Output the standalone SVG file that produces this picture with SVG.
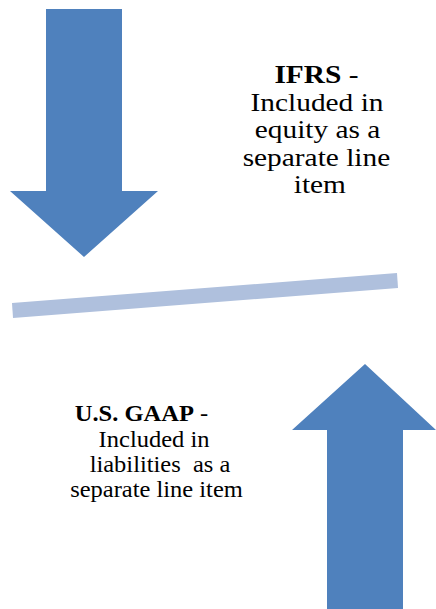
<svg xmlns="http://www.w3.org/2000/svg" width="436" height="609" viewBox="0 0 436 609">
<style>
.arrow{fill:#4f81bd}
.bar{fill:#afc0dd}
text{font-family:'Liberation Serif','Times New Roman',serif;fill:#000;text-anchor:middle}
.up{font-size:26px}
.lo{font-size:23px}
.b{font-weight:bold}
</style>
<rect width="436" height="609" fill="#fff"/>
<g id="arrow-down">
<polygon class="arrow" points="46,9 122,9 122,191 158,191 84,257 10,191 46,191"/>
</g>
<g id="bar">
<polygon class="bar" points="12,303 397,273 398,288 13,318"/>
</g>
<g id="arrow-up">
<polygon class="arrow" points="365,364 436,430 403,430 403,609 327,609 327,430 292,430"/>
</g>
<g id="ifrs-label" transform="translate(317 0) scale(1.13 1)">
<text class="up" x="-0.5" y="83"><tspan class="b">IFRS</tspan> -</text>
<text class="up" x="0" y="111">Included in</text>
<text class="up" x="0.5" y="138">equity as a</text>
<text class="up" x="-0.5" y="166">separate line</text>
<text class="up" x="2.5" y="193">item</text>
</g>
<g id="gaap-label" transform="translate(155 0) scale(1.065 1)">
<text class="lo" x="-12.7" y="421"><tspan class="b">U.S. GAAP</tspan> -</text>
<text class="lo" x="-0.9" y="447">Included in</text>
<text class="lo" x="4.7" y="472" xml:space="preserve">liabilities  as a</text>
<text class="lo" x="1.4" y="497">separate line item</text>
</g>
</svg>
